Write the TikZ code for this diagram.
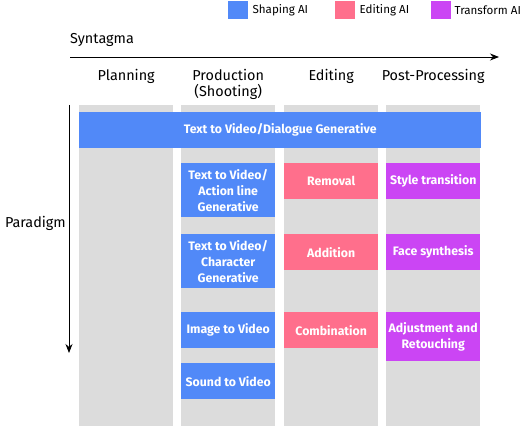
\documentclass[tikz,border=0pt]{standalone}
\usepackage{fontspec}
\setmainfont{Fira Sans}
\usepackage{tikz}
\usetikzlibrary{arrows.meta,positioning}
\definecolor{ShapeBlue}{HTML}{5189F8}
\definecolor{EditPink}{HTML}{FF6F8C}
\definecolor{TransPurple}{HTML}{CB45F4}
\definecolor{LaneGray}{HTML}{DCDCDC}

\begin{document}
\begin{tikzpicture}[x=1pt,y=-1pt,
  lane/.style={fill=LaneGray, anchor=north west, minimum width=94pt, minimum height=321pt, inner sep=0pt},
  box/.style={anchor=north west, minimum width=94pt, minimum height=36pt, inner sep=1pt, text=white, align=center, font=\bfseries\fontsize{12.3}{16}\selectfont},
  shaping/.style={box, fill=ShapeBlue},
  editing/.style={box, fill=EditPink},
  transform/.style={box, fill=TransPurple},
  head/.style={font=\fontsize{14.4}{16}\selectfont, align=center},
  key/.style={anchor=north west, minimum width=20pt, minimum height=18pt, inner sep=0pt},
  keytext/.style={anchor=west, font=\fontsize{11.6}{14}\selectfont, inner sep=0pt}]
\useasboundingbox (0,0) rectangle (525,427);

% Legend
\node[key, fill=ShapeBlue] (keyshape) at (228,1) {};
\node[keytext, right=4pt of keyshape] (keyshapetxt) {Shaping AI};
\node[key, fill=EditPink] (keyedit) at (335,1) {};
\node[keytext, right=4pt of keyedit] (keyedittxt) {Editing AI};
\node[key, fill=TransPurple] (keytrans) at (431,1) {};
\node[keytext, right=3pt of keytrans] (keytranstxt) {Transform AI};

% Axes
\node[head, anchor=west, inner sep=0pt] (syntagma) at (70,40) {Syntagma};
\coordinate (synstart) at (70,57);
\coordinate (synend) at (499,57);
\draw[-{Stealth[length=9pt,width=7pt]}, thick] (synstart) -- (synend);
\node[head, anchor=east, inner sep=0pt] (paradigm) at (66,223) {Paradigm};
\coordinate (parstart) at (69,105);
\coordinate (parend) at (69,353);
\draw[-{Stealth[length=9pt,width=7pt]}, thick] (parstart) -- (parend);

% Lanes
\node[lane] (lane1) at (79,105) {};
\node[lane] (lane2) at (181,105) {};
\node[lane] (lane3) at (284,105) {};
\node[lane] (lane4) at (386,105) {};

% Headers
\node[head, anchor=north, inner sep=0pt] (planning) at (lane1.north |- 0,69) {Planning};
\node[head, anchor=north, inner sep=0pt] (production) at (lane2.north |- 0,69) {Production\\(Shooting)};
\node[head, anchor=north, inner sep=0pt] (editinghd) at (lane3.north |- 0,69) {Editing};
\node[head, anchor=north, inner sep=0pt] (postproc) at (lane4.north |- 0,69) {Post-Processing};

% Boxes
\node[shaping, minimum width=402pt] (dialogue) at (79,112) {Text to Video/Dialogue Generative};
\node[shaping, minimum height=54pt] (action) at (181,163) {Text to Video/\\Action line\\Generative};
\node[shaping, minimum height=54pt] (character) at (181,234) {Text to Video/\\Character\\Generative};
\node[shaping] (image) at (181,312) {Image to Video};
\node[shaping] (sound) at (181,363) {Sound to Video};

\node[editing] (removal) at (284,163) {Removal};
\node[editing] (addition) at (284,234) {Addition};
\node[editing] (combination) at (284,312) {Combination};

\node[transform] (style) at (386,163) {Style transition};
\node[transform] (face) at (386,234) {Face synthesis};
\node[transform, minimum height=49pt] (adjust) at (386,312) {Adjustment and\\Retouching};
\end{tikzpicture}
\end{document}
